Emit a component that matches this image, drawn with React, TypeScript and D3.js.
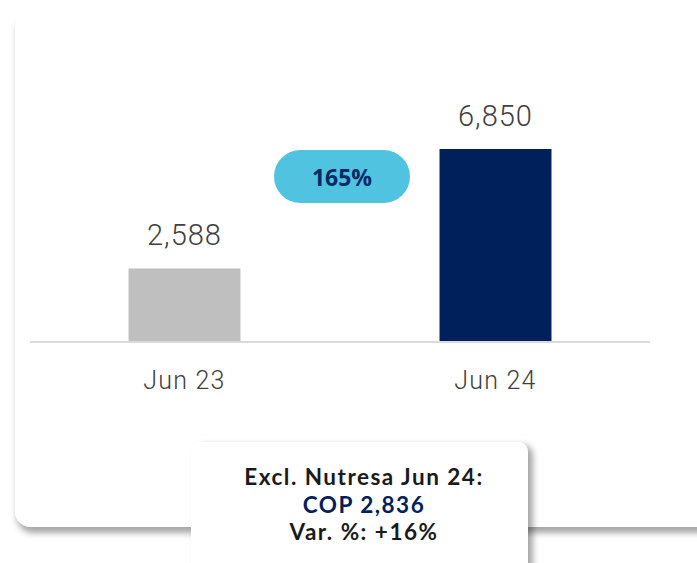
import React from "react";
import * as d3 from "d3";

const categories = ["Jun 23", "Jun 24"];
const values = [2588, 6850];
const valueLabels = ["2,588", "6,850"];
const barColors = ["#bfbfbf", "#00205b"];
const growthLabel = "165%";
const noteLines = ["Excl. Nutresa Jun 24:", "COP 2,836", "Var. %: +16%"];

export default function App() {
  const W = 697;
  const H = 563;
  const x = d3
    .scaleBand<string>()
    .domain(categories)
    .range([29, 651])
    .paddingInner(0.64)
    .paddingOuter(0.32);
  const y = d3.scaleLinear().domain([0, 6850]).range([341, 149]);
  const lightFont = "Roboto, 'Open Sans', sans-serif";
  const boldFont = "'Open Sans', 'Noto Sans', sans-serif";
  const noteFont = "Lato, 'Open Sans', sans-serif";
  return (
    <svg
      width={W}
      height={H}
      style={{ position: "absolute", left: 0, top: 0, background: "#fff" }}
    >
      <defs>
        <filter id="cardShadow" x="-10%" y="-10%" width="130%" height="130%">
          <feDropShadow dx="2" dy="6" stdDeviation="3" floodColor="#000" floodOpacity="0.35" />
        </filter>
        <filter id="boxShadow" x="-10%" y="-20%" width="130%" height="150%">
          <feDropShadow dx="5" dy="3" stdDeviation="3" floodColor="#000" floodOpacity="0.35" />
        </filter>
      </defs>
      <rect x={15} y={10} width={720} height={517} rx={16} fill="#fff" filter="url(#cardShadow)" />
      <line x1={30} x2={650} y1={342} y2={342} stroke="#dadada" strokeWidth={2} />
      {categories.map((c, i) => {
        const bx = x(c)!;
        const cx = bx + x.bandwidth() / 2;
        return (
          <g key={c}>
            <rect
              x={bx}
              y={y(values[i])}
              width={x.bandwidth()}
              height={y(0) - y(values[i])}
              fill={barColors[i]}
            />
            <text
              x={cx}
              y={y(values[i]) - 23}
              textAnchor="middle"
              fontFamily={lightFont}
              fontWeight={300}
              fontSize={29}
              letterSpacing={1}
              fill="#404040"
            >
              {valueLabels[i]}
            </text>
            <text
              x={cx}
              y={389}
              textAnchor="middle"
              fontFamily={lightFont}
              fontWeight={300}
              fontSize={25}
              letterSpacing={1.2}
              fill="#404040"
            >
              {c}
            </text>
          </g>
        );
      })}
      <rect x={274} y={150} width={136} height={53} rx={26.5} fill="#4fc3e0" />
      <text
        x={342}
        y={186}
        textAnchor="middle"
        fontFamily={boldFont}
        fontWeight={700}
        fontSize={23}
        fill="#0a2a66"
      >
        {growthLabel}
      </text>
      <rect x={191} y={442} width={337} height={140} rx={10} fill="#fff" filter="url(#boxShadow)" />
      {noteLines.map((t, i) => (
        <text
          key={t}
          x={364}
          y={485 + i * 27.5}
          textAnchor="middle"
          fontFamily={noteFont}
          fontWeight={700}
          fontSize={22.5}
          letterSpacing={1.5}
          fill={i === 1 ? "#00205b" : "#1a1a1a"}
        >
          {t}
        </text>
      ))}
    </svg>
  );
}
